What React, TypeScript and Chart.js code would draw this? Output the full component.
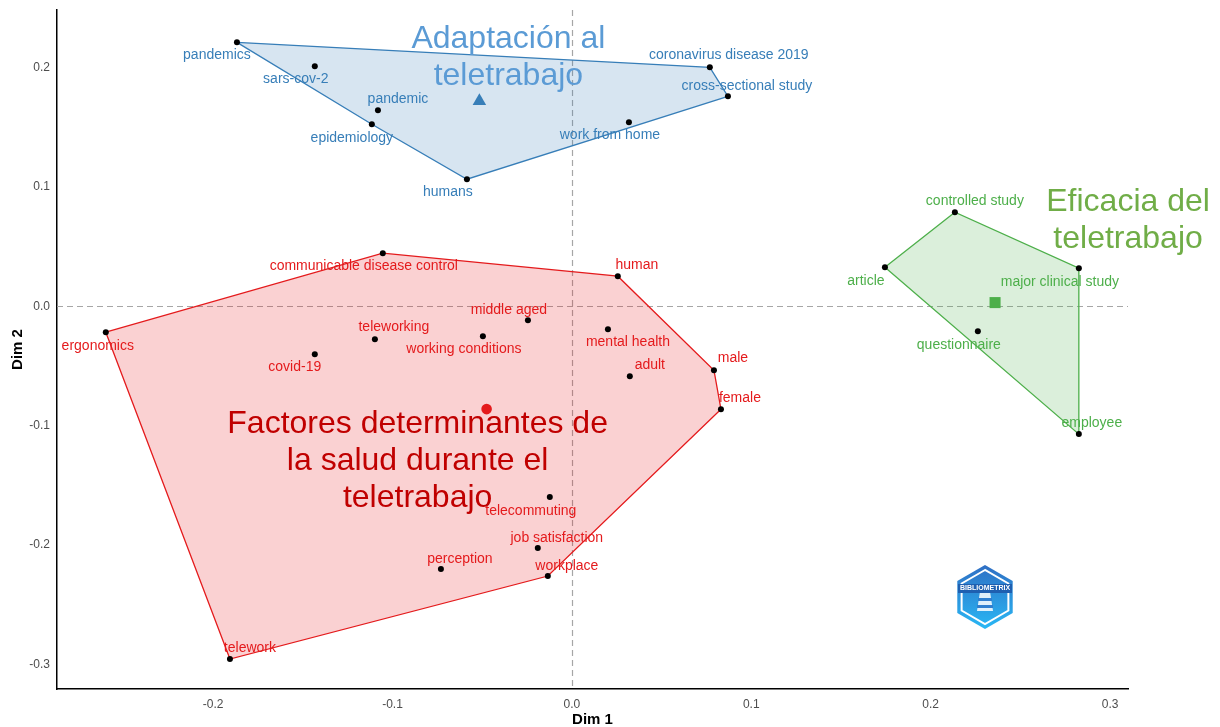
import React, { useEffect, useRef } from 'react';
import { Chart, registerables } from 'chart.js';

Chart.register(...registerables);

const FONT = '"Liberation Sans", Arial, Helvetica, sans-serif';

// ---- Cluster 1: Adaptación al teletrabajo (blue)
const blueTerms = ['pandemics', 'sars-cov-2', 'pandemic', 'epidemiology', 'humans', 'work from home', 'coronavirus disease 2019', 'cross-sectional study'];
const blueDim1 = [-0.1867, -0.1433, -0.1081, -0.1115, -0.0585, 0.0318, 0.0769, 0.0870];
const blueDim2 = [0.2209, 0.2008, 0.1640, 0.1523, 0.1063, 0.1540, 0.2000, 0.1757];

// ---- Cluster 2: Factores determinantes de la salud durante el teletrabajo (red)
const redTerms = ['communicable disease control', 'human', 'ergonomics', 'teleworking', 'covid-19', 'middle aged', 'working conditions', 'mental health', 'adult', 'male', 'female', 'telecommuting', 'job satisfaction', 'perception', 'workplace', 'telework'];
const redDim1 = [-0.1054, 0.0256, -0.2598, -0.1098, -0.1433, -0.0245, -0.0496, 0.0201, 0.0323, 0.0792, 0.0831, -0.0123, -0.0190, -0.0730, -0.0134, -0.1906];
const redDim2 = [0.0444, 0.0251, -0.0218, -0.0276, -0.0402, -0.0117, -0.0251, -0.0192, -0.0586, -0.0536, -0.0862, -0.1598, -0.2025, -0.2200, -0.2259, -0.2954];

// ---- Cluster 3: Eficacia del teletrabajo (green)
const greenTerms = ['controlled study', 'article', 'major clinical study', 'questionnaire', 'employee'];
const greenDim1 = [0.2135, 0.1745, 0.2826, 0.2263, 0.2826];
const greenDim2 = [0.0787, 0.0326, 0.0318, -0.0209, -0.1071];

const clusterNames = [
  ['Adaptación al', 'teletrabajo'],
  ['Factores determinantes de', 'la salud durante el', 'teletrabajo'],
  ['Eficacia del', 'teletrabajo'],
];

const xTicks = [-0.2, -0.1, 0, 0.1, 0.2, 0.3];
const yTicks = [-0.3, -0.2, -0.1, 0, 0.1, 0.2];
const xRange = [-0.287, 0.31];
const yRange = [-0.3205, 0.248];

// ---- styles / layout (not data)
const clusterColors = ['#377EB8', '#E41A1C', '#4DAF4A'];
const clusterFills = ['rgba(55,126,184,0.2)', 'rgba(228,26,28,0.2)', 'rgba(77,175,74,0.2)'];
const titleColors = ['#5B9BD5', '#C00000', '#70AD47'];
const centroidStyles = ['triangle', 'circle', 'rect'];
const centroidRadius = [7.8, 5.3, 7.8];
const labelOffsets = [
  [[-20, 13], [-19, 13], [20, -11], [-20, 14], [-19, 13], [-19, 13], [19, -12], [19, -10]],
  [[-19, 13], [19, -11], [-8, 14], [19, -12], [-20, 13], [-19, -10], [-19, 13], [20, 13], [20, -11], [19, -12], [19, -11], [-19, 14], [19, -10], [19, -10], [19, -10], [20, -11]],
  [[20, -11], [-19, 14], [-19, 14], [-19, 14], [13, -11]],
];
const titleOffsets = [[29, -62], [-69, 15], [133, -100]];
const titleLineHeight = 37;

type P = { x: number; y: number };

function toPoints(xs: number[], ys: number[]): P[] {
  return xs.map((x, i) => ({ x, y: ys[i] }));
}

function convexHull(pts: P[]): P[] {
  const p = [...pts].sort((a, b) => (a.x === b.x ? a.y - b.y : a.x - b.x));
  const cross = (o: P, a: P, b: P) => (a.x - o.x) * (b.y - o.y) - (a.y - o.y) * (b.x - o.x);
  const lower: P[] = [];
  for (const q of p) {
    while (lower.length >= 2 && cross(lower[lower.length - 2], lower[lower.length - 1], q) <= 0) lower.pop();
    lower.push(q);
  }
  const upper: P[] = [];
  for (let i = p.length - 1; i >= 0; i--) {
    const q = p[i];
    while (upper.length >= 2 && cross(upper[upper.length - 2], upper[upper.length - 1], q) <= 0) upper.pop();
    upper.push(q);
  }
  upper.pop();
  lower.pop();
  const h = lower.concat(upper);
  return h.concat([h[0]]);
}

function centroid(pts: P[]): P {
  const n = pts.length;
  return {
    x: pts.reduce((s, q) => s + q.x, 0) / n,
    y: pts.reduce((s, q) => s + q.y, 0) / n,
  };
}

export default function App() {
  const ref = useRef<HTMLCanvasElement | null>(null);

  useEffect(() => {
    document.body.style.margin = '0';
    const canvas = ref.current;
    if (!canvas) return;

    const clusters = [
      { terms: blueTerms, pts: toPoints(blueDim1, blueDim2) },
      { terms: redTerms, pts: toPoints(redDim1, redDim2) },
      { terms: greenTerms, pts: toPoints(greenDim1, greenDim2) },
    ];

    const datasets: any[] = [];
    clusters.forEach((c, i) => {
      datasets.push({
        label: 'hull' + i,
        data: convexHull(c.pts),
        showLine: true,
        fill: 'shape',
        tension: 0,
        borderColor: clusterColors[i],
        borderWidth: 1.3,
        backgroundColor: clusterFills[i],
        pointRadius: 0,
        order: 5,
      });
    });
    clusters.forEach((c, i) => {
      datasets.push({
        label: 'pts' + i,
        data: c.pts,
        pointRadius: 3,
        pointBackgroundColor: '#000000',
        pointBorderWidth: 0,
        borderColor: '#000000',
        order: 2,
      });
    });
    clusters.forEach((c, i) => {
      datasets.push({
        label: 'centroid' + i,
        data: [centroid(c.pts)],
        pointStyle: centroidStyles[i],
        pointRadius: centroidRadius[i],
        pointBackgroundColor: clusterColors[i],
        pointBorderWidth: 0,
        borderColor: clusterColors[i],
        order: 1,
      });
    });

    const overlay = {
      id: 'overlay',
      beforeDatasetsDraw(chart: any) {
        const { ctx, chartArea, scales } = chart;
        const x0 = scales.x.getPixelForValue(0);
        const y0 = scales.y.getPixelForValue(0);
        ctx.save();
        ctx.strokeStyle = '#a6a6a6';
        ctx.lineWidth = 1.2;
        ctx.setLineDash([6, 4]);
        ctx.beginPath();
        ctx.moveTo(Math.round(x0) + 0.5, chartArea.top);
        ctx.lineTo(Math.round(x0) + 0.5, chartArea.bottom);
        ctx.moveTo(chartArea.left, Math.round(y0) + 0.5);
        ctx.lineTo(chartArea.right, Math.round(y0) + 0.5);
        ctx.stroke();
        ctx.restore();
      },
      afterDatasetsDraw(chart: any) {
        const { ctx, scales } = chart;
        ctx.save();
        ctx.textAlign = 'center';
        ctx.textBaseline = 'middle';
        ctx.font = `14px ${FONT}`;
        clusters.forEach((c, i) => {
          ctx.fillStyle = clusterColors[i];
          c.terms.forEach((t, j) => {
            const px = scales.x.getPixelForValue(c.pts[j].x) + labelOffsets[i][j][0];
            const py = scales.y.getPixelForValue(c.pts[j].y) + labelOffsets[i][j][1];
            ctx.fillText(t, px, py);
          });
        });
        ctx.font = `32px ${FONT}`;
        clusters.forEach((c, i) => {
          const cc = centroid(c.pts);
          const px = scales.x.getPixelForValue(cc.x) + titleOffsets[i][0];
          const py = scales.y.getPixelForValue(cc.y) + titleOffsets[i][1];
          ctx.fillStyle = titleColors[i];
          clusterNames[i].forEach((line, k) => {
            ctx.fillText(line, px, py + k * titleLineHeight);
          });
        });
        ctx.restore();
      },
      afterDraw(chart: any) {
        // bibliometrix logo (decoration)
        const { ctx } = chart;
        const cx = 985, cy = 597;
        const hex = (r: number) => {
          ctx.beginPath();
          for (let k = 0; k < 6; k++) {
            const a = Math.PI / 2 + (k * Math.PI) / 3;
            const x = cx + r * Math.cos(a);
            const y = cy - r * Math.sin(a);
            if (k === 0) ctx.moveTo(x, y); else ctx.lineTo(x, y);
          }
          ctx.closePath();
        };
        ctx.save();
        const g = ctx.createLinearGradient(0, cy - 32, 0, cy + 32);
        g.addColorStop(0, '#2f6fc4');
        g.addColorStop(1, '#29b8f5');
        hex(32);
        ctx.fillStyle = g;
        ctx.fill();
        hex(27);
        ctx.strokeStyle = '#ffffff';
        ctx.lineWidth = 2;
        ctx.stroke();
        ctx.fillStyle = '#ffffff';
        ctx.beginPath();
        ctx.moveTo(cx - 4, cy - 12);
        ctx.lineTo(cx + 4, cy - 12);
        ctx.lineTo(cx + 8, cy + 14);
        ctx.lineTo(cx - 8, cy + 14);
        ctx.closePath();
        ctx.globalAlpha = 0.85;
        ctx.fill();
        ctx.globalAlpha = 1;
        ctx.fillStyle = '#2f7fd0';
        ctx.fillRect(cx - 7, cy + 1, 14, 3);
        ctx.fillRect(cx - 8, cy + 8, 16, 3);
        ctx.fillStyle = '#1f5fb0';
        ctx.fillRect(cx - 27, cy - 13, 54, 9);
        ctx.fillStyle = '#ffffff';
        ctx.font = `bold 7px ${FONT}`;
        ctx.textAlign = 'center';
        ctx.textBaseline = 'middle';
        ctx.fillText('BIBLIOMETRIX', cx, cy - 8.5);
        ctx.restore();
      },
    };

    const chart = new Chart(canvas, {
      type: 'scatter',
      data: { datasets },
      options: {
        animation: false,
        responsive: false,
        maintainAspectRatio: false,
        layout: { padding: { left: 0, right: 92, top: 10, bottom: 0 } },
        plugins: { legend: { display: false }, tooltip: { enabled: false } },
        scales: {
          x: {
            type: 'linear',
            min: xRange[0],
            max: xRange[1],
            grid: { display: false, drawTicks: false },
            border: { display: true, color: '#000000', width: 1.5 },
            afterBuildTicks: (s: any) => { s.ticks = xTicks.map((v) => ({ value: v })); },
            afterFit: (s: any) => { s.height = 38; s.paddingLeft = 0; s.paddingRight = 0; },
            ticks: {
              padding: 8,
              color: '#4d4d4d',
              font: { family: FONT, size: 12 },
              callback: (v: any) => Number(v).toFixed(1),
            },
            title: {
              display: true,
              text: 'Dim 1',
              color: '#000000',
              font: { family: FONT, size: 15, weight: 'bold' },
              padding: { top: 0, bottom: -2 },
            },
          },
          y: {
            type: 'linear',
            min: yRange[0],
            max: yRange[1],
            grid: { display: false, drawTicks: false },
            border: { display: true, color: '#000000', width: 1.5 },
            afterBuildTicks: (s: any) => { s.ticks = yTicks.map((v) => ({ value: v })); },
            afterFit: (s: any) => { s.width = 57; s.paddingTop = 0; s.paddingBottom = 0; },
            ticks: {
              padding: 7,
              color: '#4d4d4d',
              font: { family: FONT, size: 12 },
              callback: (v: any) => Number(v).toFixed(1),
            },
            title: {
              display: true,
              text: 'Dim 2',
              color: '#000000',
              font: { family: FONT, size: 15, weight: 'bold' },
              padding: { top: 9, bottom: 0 },
            },
          },
        },
      },
      plugins: [overlay],
    } as any);

    return () => chart.destroy();
  }, []);

  return (
    <div style={{ width: 1220, height: 727, background: '#ffffff' }}>
      <canvas ref={ref} width={1220} height={727} style={{ display: 'block' }} />
    </div>
  );
}
